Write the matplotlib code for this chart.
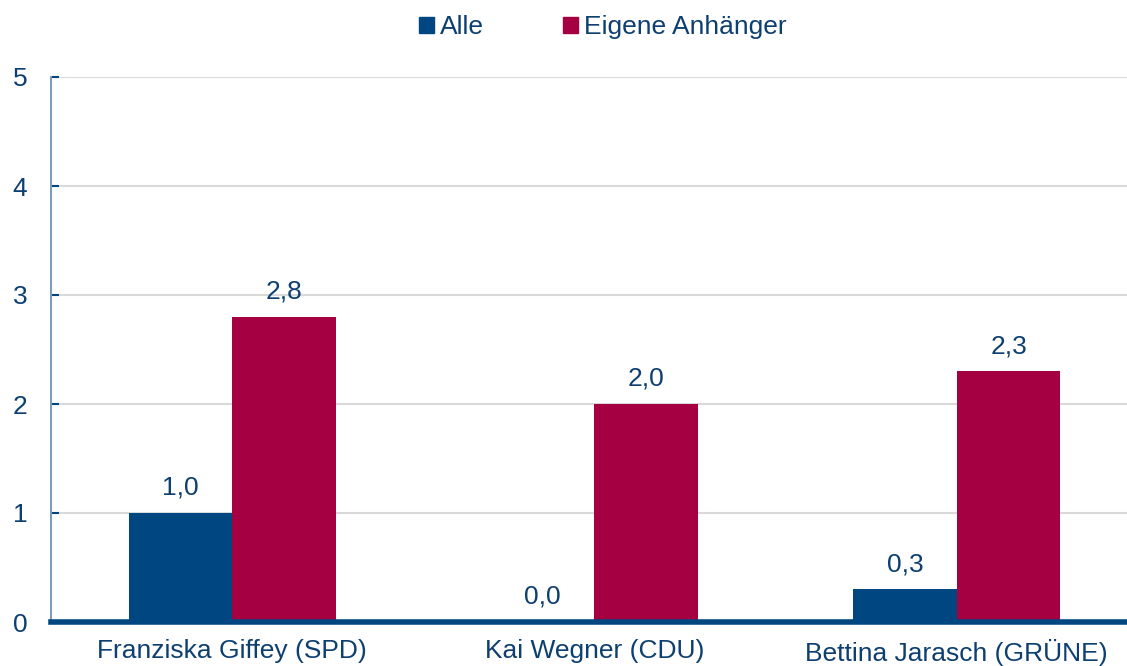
import matplotlib
matplotlib.use("Agg")
import matplotlib.pyplot as plt
from matplotlib.patches import Patch
import numpy as np

categories = ["Franziska Giffey (SPD)", "Kai Wegner (CDU)", "Bettina Jarasch (GRÜNE)"]
series_names = ["Alle", "Eigene Anhänger"]
alle = [1.0, 0.0, 0.3]
eigene = [2.8, 2.0, 2.3]
yticks = [0, 1, 2, 3, 4, 5]

c_alle = "#004680"
c_eig = "#a50041"
txt = "#0d3f70"
fs = 19

plt.rcParams['font.family'] = ['Liberation Sans', 'DejaVu Sans']

fig = plt.figure(figsize=(11.27, 6.66), dpi=100)
ax = fig.add_axes([51/1127, 44/666, (1127-51)/1127, (622-77)/666])

x = np.arange(len(categories))
w = 0.286
b1 = ax.bar(x - w/2, alle, w, color=c_alle, zorder=3)
b2 = ax.bar(x + w/2, eigene, w, color=c_eig, zorder=3)

for bars, vals in ((b1, alle), (b2, eigene)):
    for r, v in zip(bars, vals):
        ax.annotate(f"{v:.1f}".replace(".", ","), (r.get_x() + r.get_width()/2, v),
                    xytext=(0, 13), textcoords="offset points", ha="center", va="baseline",
                    fontsize=fs, color=txt)

ax.set_xlim(-0.5, 2.47)
ax.set_ylim(0, 5)
ax.set_yticks(yticks)
ax.set_yticklabels([str(t) for t in yticks])
ax.set_xticks(x)
ax.set_xticklabels(categories)
ax.grid(axis="y", color="#d9d9d9", linewidth=1.5, zorder=0)
ax.set_axisbelow(True)

for s in ["top", "right"]:
    ax.spines[s].set_visible(False)
ax.spines["left"].set_color("#7f9cbc")
ax.spines["left"].set_linewidth(1.5)
ax.spines["bottom"].set_color(c_alle)
ax.spines["bottom"].set_linewidth(4)
ax.spines["bottom"].set_zorder(4)

ax.tick_params(axis="y", direction="in", length=6, width=1.5, color=c_alle,
               labelsize=fs, labelcolor=txt, pad=17)
ax.tick_params(axis="x", length=0, labelsize=fs, labelcolor=txt, pad=12)

handles = [Patch(color=c_alle), Patch(color=c_eig)]
fig.legend(handles, series_names, loc="center", bbox_to_anchor=(603/1127, 1 - 27/666),
           ncol=2, frameon=False, fontsize=fs, labelcolor=txt,
           handlelength=0.55, handleheight=0.55, handletextpad=0.25, columnspacing=3.0)

fig.savefig("out.png", dpi=100)
